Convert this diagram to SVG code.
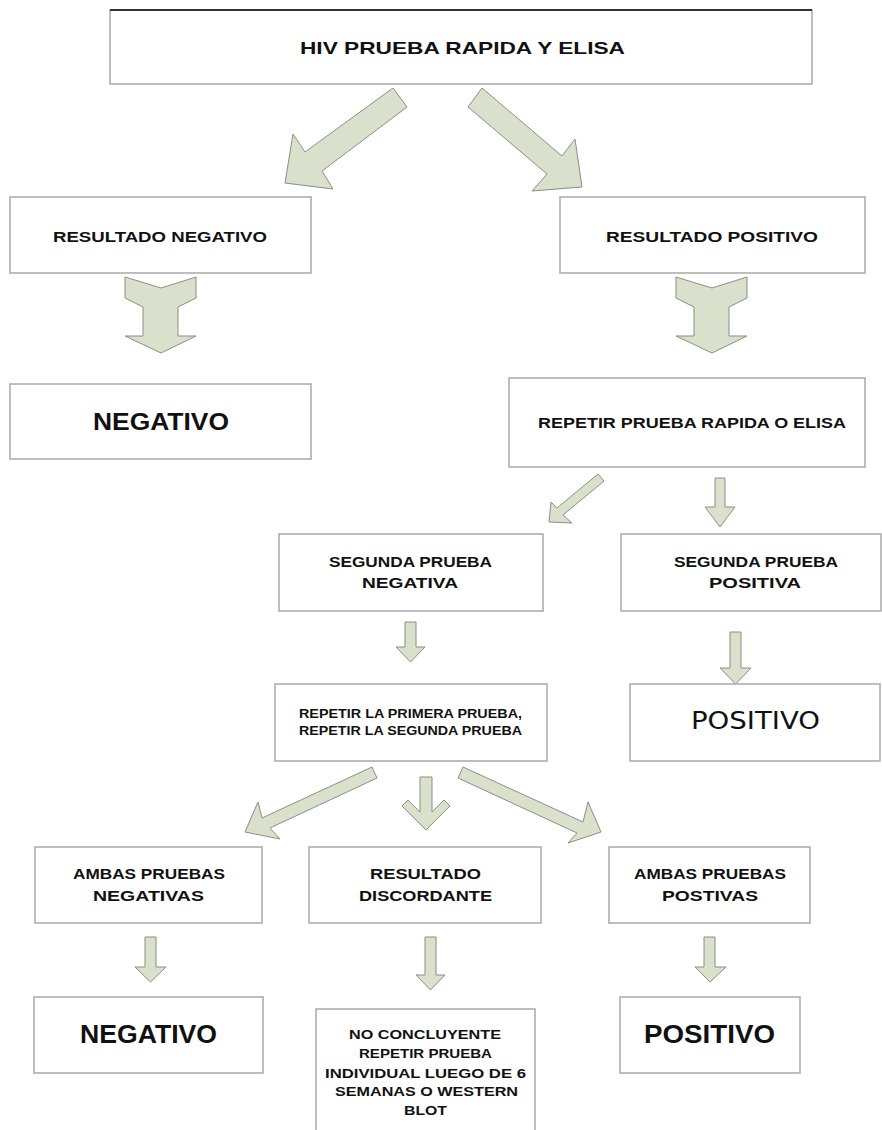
<svg xmlns="http://www.w3.org/2000/svg" width="882" height="1130" viewBox="0 0 882 1130">
<style>
.box{fill:#ffffff;stroke:#a9a9a9;stroke-width:1.5}
.arr{fill:#d9e0cb;stroke:#8e8e82;stroke-width:1;stroke-linejoin:miter}
.t{font-family:"Liberation Sans",Arial,sans-serif;font-weight:bold;fill:#111111;font-size:15px}
.s{font-size:12px}
.l{font-size:24px}
.n{font-family:"DejaVu Sans","Liberation Sans",sans-serif;font-weight:normal;font-size:24px;fill:#111111}
</style>
<rect width="882" height="1130" fill="#ffffff"/>
<g id="connectors">
<polygon class="arr" points="393,88 407,107 322,171 333,189 285,183 293,134 305,152"/>
<polygon class="arr" points="482,88 468,107 547,174 532,191 582,187 575,139 562,156"/>
<polygon class="arr" points="125,277 161,288 196,277 196,298 178,307 178,336 196,336 161,353 125,336 143,336 143,307 125,298"/>
<polygon class="arr" points="676,277 712,288 747,277 747,298 729,307 729,336 747,336 712,353 676,336 694,336 694,307 676,298"/>
<polygon class="arr" points="598,474 604,481 563,515 572,523 549,522 551,502 557,508"/>
<polygon class="arr" points="715,478 725,478 725,507 735,507 720,527 705,507 715,507"/>
<polygon class="arr" points="405,622 416,622 416,647 425,647 410.5,662 396,647 405,647"/>
<polygon class="arr" points="730,632 741,632 741,668 751,668 735.5,684 720,668 730,668"/>
<polygon class="arr" points="372,767 377,778 270,828 280,839 245,832 258,802 262,818"/>
<polygon class="arr" points="420,777 432,777 432,812 444,800 450,806 426,830 402,806 408,800 420,812"/>
<polygon class="arr" points="463,767 458,778 577,833 568,843 601,832 588,802 583,822"/>
<polygon class="arr" points="145,937 156,937 156,967 166,967 150.5,982 135,967 145,967"/>
<polygon class="arr" points="425,937 436,937 436,975 445,975 430.5,990 416,975 425,975"/>
<polygon class="arr" points="704,937 715,937 715,967 726,967 710,982 695,967 704,967"/>
</g>
<g id="n1"><rect class="box" x="110" y="10" width="702" height="74"/><line x1="110" y1="10" x2="812" y2="10" stroke="#333333" stroke-width="2"/><text class="t" x="300" y="54" font-size="17" textLength="325" lengthAdjust="spacingAndGlyphs" style="font-size:17px">HIV PRUEBA RAPIDA Y ELISA</text></g>
<g id="n2"><rect class="box" x="10" y="197" width="301" height="76"/><text class="t" x="53" y="242" textLength="214" lengthAdjust="spacingAndGlyphs">RESULTADO NEGATIVO</text></g>
<g id="n3"><rect class="box" x="560" y="197" width="305" height="76"/><text class="t" x="606" y="242" textLength="212" lengthAdjust="spacingAndGlyphs">RESULTADO POSITIVO</text></g>
<g id="n4"><rect class="box" x="10" y="384" width="301" height="75"/><text class="t l" x="93" y="430" textLength="136" lengthAdjust="spacingAndGlyphs">NEGATIVO</text></g>
<g id="n5"><rect class="box" x="509" y="378" width="356" height="89"/><text class="t" x="538" y="428" textLength="308" lengthAdjust="spacingAndGlyphs">REPETIR PRUEBA RAPIDA O ELISA</text></g>
<g id="n6"><rect class="box" x="279" y="534" width="264" height="77"/><text class="t" x="329" y="567" textLength="163" lengthAdjust="spacingAndGlyphs">SEGUNDA PRUEBA</text><text class="t" x="362" y="588" textLength="96" lengthAdjust="spacingAndGlyphs">NEGATIVA</text></g>
<g id="n7"><rect class="box" x="621" y="534" width="260" height="77"/><text class="t" x="674" y="567" textLength="164" lengthAdjust="spacingAndGlyphs">SEGUNDA PRUEBA</text><text class="t" x="709" y="588" textLength="92" lengthAdjust="spacingAndGlyphs">POSITIVA</text></g>
<g id="n8"><rect class="box" x="275" y="684" width="272" height="77"/><text class="t s" x="299" y="718" textLength="223" lengthAdjust="spacingAndGlyphs">REPETIR LA PRIMERA PRUEBA,</text><text class="t s" x="299" y="735" textLength="223" lengthAdjust="spacingAndGlyphs">REPETIR LA SEGUNDA PRUEBA</text></g>
<g id="n9"><rect class="box" x="630" y="684" width="250" height="77"/><text class="n" x="691" y="729" textLength="129" lengthAdjust="spacingAndGlyphs">POSITIVO</text></g>
<g id="n10"><rect class="box" x="35" y="847" width="227" height="76"/><text class="t" x="73" y="879" textLength="152" lengthAdjust="spacingAndGlyphs">AMBAS PRUEBAS</text><text class="t" x="93" y="901" textLength="111" lengthAdjust="spacingAndGlyphs">NEGATIVAS</text></g>
<g id="n11"><rect class="box" x="309" y="847" width="232" height="76"/><text class="t" x="370" y="879" textLength="111" lengthAdjust="spacingAndGlyphs">RESULTADO</text><text class="t" x="359" y="901" textLength="133" lengthAdjust="spacingAndGlyphs">DISCORDANTE</text></g>
<g id="n12"><rect class="box" x="609" y="847" width="201" height="76"/><text class="t" x="634" y="879" textLength="152" lengthAdjust="spacingAndGlyphs">AMBAS PRUEBAS</text><text class="t" x="662" y="901" textLength="96" lengthAdjust="spacingAndGlyphs">POSTIVAS</text></g>
<g id="n13"><rect class="box" x="34" y="997" width="229" height="76"/><text class="t" x="80" y="1043" textLength="137" lengthAdjust="spacingAndGlyphs" style="font-size:26px">NEGATIVO</text></g>
<g id="n14"><rect class="box" x="316" y="1009" width="219" height="130"/>
<text class="t" x="349" y="1039" textLength="152" lengthAdjust="spacingAndGlyphs" style="font-size:13px">NO CONCLUYENTE</text>
<text class="t" x="359" y="1058" textLength="133" lengthAdjust="spacingAndGlyphs" style="font-size:13px">REPETIR PRUEBA</text>
<text class="t" x="325" y="1078" textLength="201" lengthAdjust="spacingAndGlyphs" style="font-size:13px">INDIVIDUAL LUEGO DE 6</text>
<text class="t" x="335" y="1096" textLength="183" lengthAdjust="spacingAndGlyphs" style="font-size:13px">SEMANAS O WESTERN</text>
<text class="t" x="404" y="1115" textLength="43" lengthAdjust="spacingAndGlyphs" style="font-size:13px">BLOT</text></g>
<g id="n15"><rect class="box" x="620" y="997" width="180" height="76"/><text class="t" x="644" y="1043" textLength="131" lengthAdjust="spacingAndGlyphs" style="font-size:26px">POSITIVO</text></g>
</svg>
